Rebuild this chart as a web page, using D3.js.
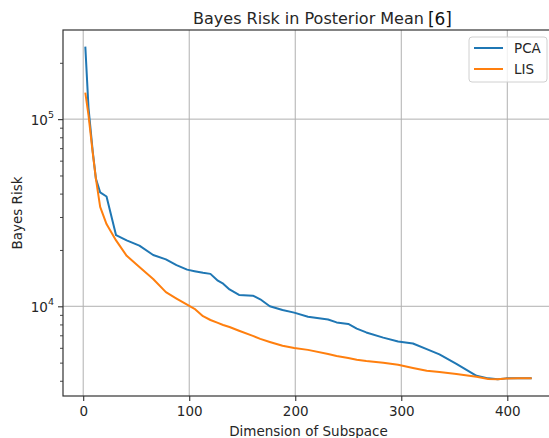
<!DOCTYPE html>
<html>
<head>
<meta charset="utf-8">
<script src="https://cdn.jsdelivr.net/npm/d3@7"></script>
<style>
  body { margin: 0; background: #fff; }
  svg { font-family: "DejaVu Sans", sans-serif; }
</style>
</head>
<body>
<div id="chart"></div>
<script>
// dimension of subspace (x) and Bayes risk for each method
const dims = [2, 5, 9, 12, 16, 22, 31, 41, 53, 66, 78, 88, 98, 105, 113, 120, 127, 132, 138, 147,
  160, 167, 176, 188, 199, 212, 231, 239, 250, 258, 267, 283, 297, 311, 324, 336, 352, 371, 382, 391, 399, 410, 423];
const pcaRisk = [244000, 115000, 67000, 48000, 40600, 38600, 24000, 22500, 21100, 18800, 17800, 16600, 15700, 15400,
  15100, 14900, 13700, 13200, 12300, 11500, 11400, 10900, 10000, 9550, 9250, 8800, 8500, 8200, 8050, 7600, 7250,
  6800, 6480, 6330, 5900, 5530, 4920, 4250, 4120, 4080, 4120, 4130, 4130];
const lisRisk = [138600, 105000, 66000, 48000, 34000, 27500, 22500, 18600, 16200, 14000, 11900, 11000, 10200, 9700,
  8850, 8450, 8150, 7950, 7750, 7400, 6950, 6700, 6450, 6150, 5980, 5850, 5560, 5430, 5300, 5180, 5100, 4990,
  4870, 4680, 4520, 4450, 4350, 4200, 4090, 4070, 4110, 4120, 4120];
const seriesNames = ["PCA", "LIS"];
const seriesColors = ["#1f77b4", "#ff7f0e"];
const xTicks = [0, 100, 200, 300, 400];
const yMajor = [1e4, 1e5];

const size = {
  width: 549,
  height: 438,
  plot: { left: 63, top: 30, right: 554, bottom: 396 },
  font: 13.5
};

const drawChart = function(size) {
  const svg = d3.select("#chart").append("svg")
    .attr("width", size.width)
    .attr("height", size.height);

  const p = size.plot;
  const fs = size.font + "px";
  const series = [pcaRisk, lisRisk];

  // matplotlib style 5% margins
  const xMin = d3.min(dims), xMax = d3.max(dims);
  const xPad = (xMax - xMin) * 0.05;
  const x = d3.scaleLinear().domain([xMin - xPad, xMax + xPad]).range([p.left, p.right]);

  const allVals = pcaRisk.concat(lisRisk);
  const lMin = Math.log10(d3.min(allVals)), lMax = Math.log10(d3.max(allVals));
  const lPad = (lMax - lMin) * 0.05;
  const y = d3.scaleLog().domain([Math.pow(10, lMin - lPad), Math.pow(10, lMax + lPad)]).range([p.bottom, p.top]);

  // grid
  const grid = svg.append("g").attr("stroke", "#b0b0b0").attr("stroke-width", 1);
  grid.selectAll("line.gx").data(xTicks).enter().append("line")
    .attr("x1", d => x(d)).attr("x2", d => x(d))
    .attr("y1", p.top).attr("y2", p.bottom);
  grid.selectAll("line.gy").data(yMajor).enter().append("line")
    .attr("x1", p.left).attr("x2", p.right)
    .attr("y1", d => y(d)).attr("y2", d => y(d));

  // lines
  const line = d3.line().x((d, i) => x(dims[i])).y(d => y(d));
  series.forEach((s, k) => {
    svg.append("path").datum(s)
      .attr("d", line)
      .attr("fill", "none")
      .attr("stroke", seriesColors[k])
      .attr("stroke-width", 2)
      .attr("stroke-linejoin", "round");
  });

  // frame
  svg.append("rect")
    .attr("x", p.left).attr("y", p.top)
    .attr("width", p.right - p.left).attr("height", p.bottom - p.top)
    .attr("fill", "none").attr("stroke", "#333").attr("stroke-width", 1.2);

  // x axis
  const xAxis = svg.append("g")
    .attr("transform", `translate(0, ${p.bottom})`)
    .call(d3.axisBottom(x).tickValues(xTicks).tickSize(5).tickPadding(5).tickSizeOuter(0));
  xAxis.select(".domain").remove();
  xAxis.selectAll("line").attr("stroke", "#333").attr("stroke-width", 1.1);
  xAxis.selectAll("text").attr("font-size", fs).attr("fill", "#262626").attr("font-family", "DejaVu Sans");

  // y axis minor ticks
  const minor = [];
  [1e3, 1e4, 1e5].forEach(dec => {
    for (let m = 2; m <= 9; m++) {
      const v = m * dec;
      if (v > y.domain()[0] && v < y.domain()[1]) minor.push(v);
    }
  });
  const yMinor = svg.append("g")
    .attr("transform", `translate(${p.left}, 0)`)
    .call(d3.axisLeft(y).tickValues(minor).tickSize(3).tickFormat(""));
  yMinor.select(".domain").remove();
  yMinor.selectAll("line").attr("stroke", "#333").attr("stroke-width", 0.9);

  const yAxis = svg.append("g")
    .attr("transform", `translate(${p.left}, 0)`)
    .call(d3.axisLeft(y).tickValues(yMajor).tickSize(5).tickPadding(4).tickFormat(""));
  yAxis.select(".domain").remove();
  yAxis.selectAll("line").attr("stroke", "#333").attr("stroke-width", 1.1);
  yAxis.selectAll(".tick text").each(function(d) {
    const t = d3.select(this)
      .attr("font-size", fs).attr("fill", "#262626").attr("font-family", "DejaVu Sans")
      .attr("dy", "0.4em");
    t.append("tspan").text("10");
    t.append("tspan").attr("font-size", "9.5px").attr("dy", "-0.75em").text(Math.round(Math.log10(d)));
  });

  // labels
  svg.append("text")
    .attr("x", (p.left + p.right) / 2).attr("y", 436)
    .attr("text-anchor", "middle").attr("font-size", fs).attr("fill", "#262626")
    .text("Dimension of Subspace");

  svg.append("text")
    .attr("transform", `translate(22, ${(p.top + p.bottom) / 2}) rotate(-90)`)
    .attr("text-anchor", "middle").attr("font-size", fs).attr("fill", "#262626")
    .text("Bayes Risk");

  const title = svg.append("text")
    .attr("x", (p.left + p.right) / 2).attr("y", 24)
    .attr("text-anchor", "middle").attr("font-size", "16px").attr("fill", "#262626")
    .text("Bayes Risk in Posterior Mean");
  const tw = title.node().getComputedTextLength();
  svg.append("text")
    .attr("x", (p.left + p.right) / 2 + tw / 2 + 4).attr("y", 25)
    .attr("font-size", "17px").attr("fill", "#111")
    .text("[6]");

  // legend
  const legend = svg.append("g").attr("transform", "translate(469, 37)");
  legend.append("rect")
    .attr("width", 78).attr("height", 45).attr("rx", 3)
    .attr("fill", "#fff").attr("fill-opacity", 0.8)
    .attr("stroke", "#d0d0d0").attr("stroke-width", 1);
  seriesNames.forEach((name, k) => {
    const ly = 11 + k * 21;
    legend.append("line")
      .attr("x1", 5).attr("x2", 34).attr("y1", ly).attr("y2", ly)
      .attr("stroke", seriesColors[k]).attr("stroke-width", 2);
    legend.append("text")
      .attr("x", 45).attr("y", ly + 5)
      .attr("font-size", fs).attr("fill", "#262626")
      .text(name);
  });
};

window.onload = () => {
  drawChart(size);
};
</script>
</body>
</html>
